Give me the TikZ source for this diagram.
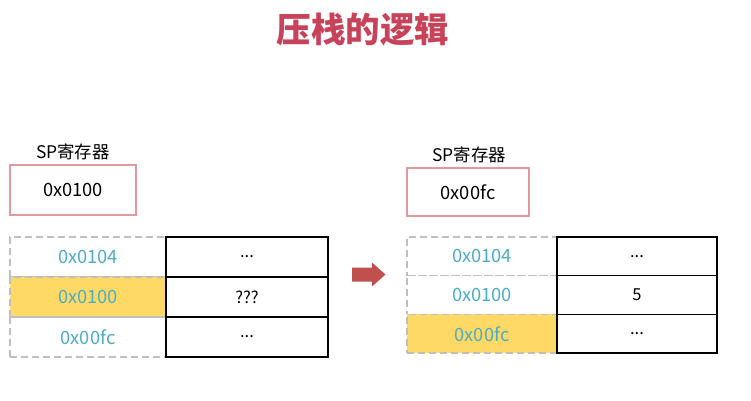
\documentclass[tikz,border=0pt]{standalone}
\usepackage{fontspec}
\newfontfamily\cjk{Noto Sans CJK SC}
\usetikzlibrary{positioning}
\definecolor{titlered}{HTML}{C8435A}
\definecolor{spborder}{HTML}{DE9A9C}
\definecolor{addrblue}{HTML}{4BACC6}
\definecolor{hl}{HTML}{FFD966}
\definecolor{dashgray}{HTML}{BFBFBF}
\definecolor{arrowred}{HTML}{C0504D}
\tikzset{
  lbl/.style={font=\cjk\fontsize{17.4}{19}\selectfont, inner sep=0pt},
  spbox/.style={draw=spborder, line width=1.3pt, inner sep=0pt, font=\cjk\fontsize{18.3}{20}\selectfont},
  addrcell/.style={draw=dashgray, dash pattern=on 7pt off 4pt, line width=1.3pt, inner sep=0pt, text=addrblue, font=\cjk\fontsize{18.3}{20}\selectfont},
  valcell/.style={draw=black, line width=1.3pt, inner sep=0pt, font=\cjk\fontsize{16.5}{18}\selectfont},
}
\begin{document}
\begin{tikzpicture}[x=1pt,y=-1pt]
\useasboundingbox (0,0) rectangle (751,400);
\fill[white] (0,0) rectangle (751,400);
\node[font=\cjk\bfseries\fontsize{34.5}{38}\selectfont, text=titlered, inner sep=0pt] (title) at (363,30) {压栈的逻辑};

% Left side
\node[lbl] (splblL) at (73,152) {SP寄存器};
\node[spbox, minimum width=126pt, minimum height=50pt] (spL) at (73,190) {0x0100};
\node[addrcell, minimum width=156pt, minimum height=40pt] (la1) at (88,257) {0x0104};
\node[addrcell, fill=hl, minimum width=156pt, minimum height=40pt] (la2) at (88,297) {0x0100};
\node[addrcell, minimum width=156pt, minimum height=40pt] (la3) at (88,337) {0x00fc};
\node[valcell, minimum width=162pt, minimum height=40pt] (lv1) at (247,257) {...};
\node[valcell, minimum width=162pt, minimum height=40pt] (lv2) at (247,297) {???};
\node[valcell, minimum width=162pt, minimum height=40pt] (lv3) at (247,337) {...};

% Arrow
\fill[arrowred] (352,267.5) -- (372,267.5) -- (372,262.5) -- (385.5,274.5) -- (372,286.5) -- (372,281.5) -- (352,281.5) -- cycle;

% Right side
\node[lbl] (splblR) at (469,155) {SP寄存器};
\node[spbox, minimum width=122pt, minimum height=48pt] (spR) at (468,192) {0x00fc};
\node[addrcell, minimum width=150pt, minimum height=38.7pt] (ra1) at (482,256.35) {0x0104};
\node[addrcell, minimum width=150pt, minimum height=38.7pt] (ra2) at (482,295.05) {0x0100};
\node[addrcell, fill=hl, minimum width=150pt, minimum height=38.7pt] (ra3) at (482,333.75) {0x00fc};
\node[valcell, minimum width=160pt, minimum height=38.7pt] (rv1) at (637,256.35) {...};
\node[valcell, minimum width=160pt, minimum height=38.7pt] (rv2) at (637,295.05) {5};
\node[valcell, minimum width=160pt, minimum height=38.7pt] (rv3) at (637,333.75) {...};
\end{tikzpicture}
\end{document}
